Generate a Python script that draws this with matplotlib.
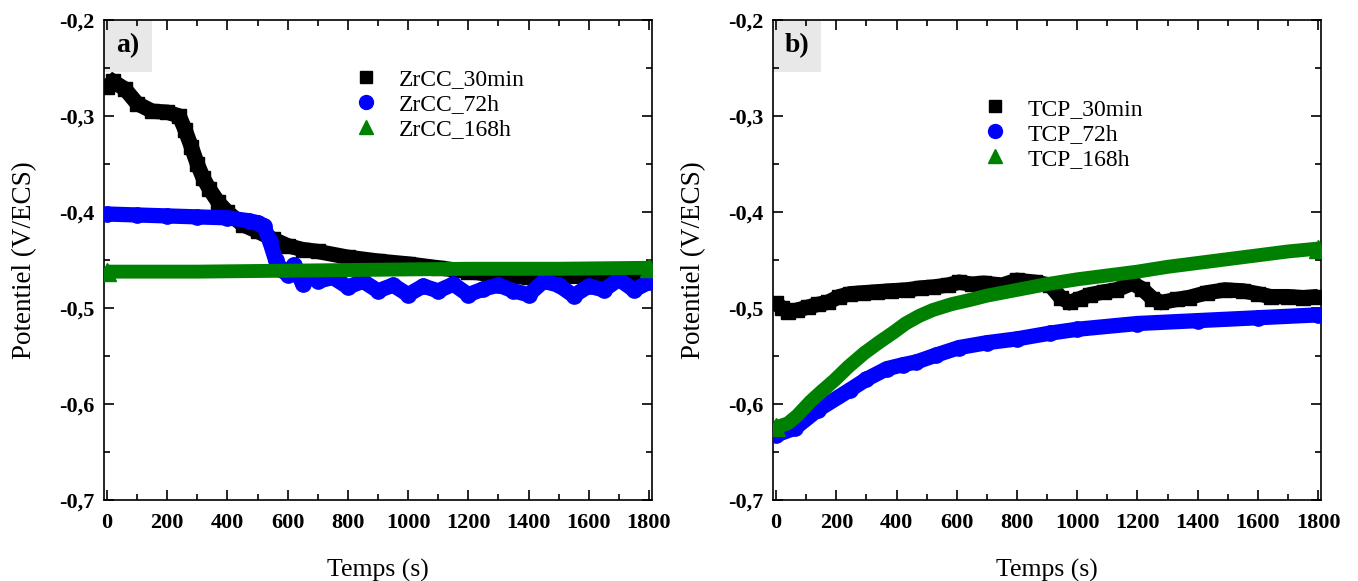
import matplotlib
matplotlib.use("Agg")
import matplotlib.pyplot as plt
from matplotlib.lines import Line2D
from matplotlib.ticker import MultipleLocator
from matplotlib.patches import Rectangle

plt.rcParams['font.family'] = ['Liberation Serif', 'DejaVu Serif']

# panel a) ZrCC
t_zr_30 = [0, 20, 60, 100, 150, 200, 240, 260, 280, 300, 320, 340, 370, 400, 450, 500, 550, 600,
           650, 700, 800, 900, 1000, 1100, 1200, 1300, 1400, 1500, 1600, 1700, 1800]
e_zr_30 = [-0.270, -0.264, -0.272, -0.287, -0.295, -0.296, -0.300, -0.315, -0.332, -0.350, -0.365,
           -0.376, -0.390, -0.400, -0.413, -0.420, -0.428, -0.435, -0.439, -0.441, -0.447, -0.451,
           -0.454, -0.458, -0.462, -0.466, -0.468, -0.467, -0.467, -0.466, -0.466]
t_zr_72 = [0, 100, 200, 300, 400, 470, 500, 520, 540, 560, 580, 600, 620, 650, 680, 700, 750, 800,
           850, 900, 950, 1000, 1050, 1100, 1150, 1200, 1250, 1300, 1350, 1400, 1450, 1500, 1550,
           1600, 1650, 1700, 1750, 1800]
e_zr_72 = [-0.402, -0.403, -0.404, -0.405, -0.406, -0.409, -0.411, -0.414, -0.430, -0.450, -0.460,
           -0.465, -0.455, -0.475, -0.465, -0.472, -0.468, -0.478, -0.472, -0.482, -0.476, -0.486,
           -0.477, -0.482, -0.475, -0.486, -0.480, -0.476, -0.482, -0.486, -0.472, -0.476, -0.487,
           -0.477, -0.481, -0.470, -0.481, -0.473]
t_zr_168 = [0, 300, 600, 900, 1200, 1500, 1800]
e_zr_168 = [-0.462, -0.462, -0.461, -0.460, -0.459, -0.459, -0.458]

# panel b) TCP
t_tcp_30 = [0, 20, 40, 70, 105, 140, 171, 210, 246, 290, 335, 380, 434, 480, 522, 570, 608, 650,
            690, 750, 800, 860, 910, 945, 975, 1010, 1042, 1090, 1130, 1183, 1216, 1250, 1280,
            1330, 1370, 1430, 1491, 1550, 1600, 1643, 1700, 1750, 1800]
e_tcp_30 = [-0.495, -0.500, -0.504, -0.502, -0.499, -0.496, -0.494, -0.488, -0.485, -0.484, -0.483,
            -0.482, -0.481, -0.479, -0.478, -0.476, -0.473, -0.475, -0.474, -0.476, -0.471, -0.473,
            -0.476, -0.489, -0.494, -0.490, -0.486, -0.483, -0.481, -0.474, -0.480, -0.490, -0.494,
            -0.491, -0.489, -0.484, -0.481, -0.482, -0.485, -0.488, -0.488, -0.489, -0.488]
t_tcp_72 = [0, 62, 138, 246, 300, 368, 420, 466, 530, 608, 700, 800, 910, 1000, 1200, 1400, 1600,
            1800]
e_tcp_72 = [-0.632, -0.625, -0.606, -0.585, -0.574, -0.563, -0.559, -0.556, -0.549, -0.541,
            -0.536, -0.532, -0.526, -0.522, -0.516, -0.513, -0.510, -0.507]
t_tcp_168 = [0, 39, 70, 115, 150, 194, 240, 292, 340, 391, 430, 476, 520, 581, 650, 700, 800, 900,
             1000, 1100, 1200, 1300, 1400, 1500, 1600, 1700, 1800]
e_tcp_168 = [-0.624, -0.620, -0.612, -0.597, -0.587, -0.575, -0.561, -0.547, -0.536, -0.525,
             -0.516, -0.508, -0.502, -0.496, -0.491, -0.487, -0.481, -0.475, -0.470, -0.466,
             -0.462, -0.457, -0.453, -0.449, -0.445, -0.441, -0.438]

labels_a = ["ZrCC_30min", "ZrCC_72h", "ZrCC_168h"]
labels_b = ["TCP_30min", "TCP_72h", "TCP_168h"]
panels = ["a)", "b)"]
yticks = [-0.7, -0.6, -0.5, -0.4, -0.3, -0.2]
xticks = [0, 200, 400, 600, 800, 1000, 1200, 1400, 1600, 1800]

fig, axes = plt.subplots(1, 2, figsize=(13.58, 5.81), dpi=100)
fig.subplots_adjust(left=0.0766, right=0.9728, top=0.9656, bottom=0.139, wspace=0.221)

data = [
    [(t_zr_30, e_zr_30), (t_zr_72, e_zr_72), (t_zr_168, e_zr_168)],
    [(t_tcp_30, e_tcp_30), (t_tcp_72, e_tcp_72), (t_tcp_168, e_tcp_168)],
]
colors = ["black", "#0000ff", "#008000"]
legend_pos = [(0.431, 0.924), (0.357, 0.862)]

for i, ax in enumerate(axes):
    (t1, e1), (t2, e2), (t3, e3) = data[i]
    # black squares
    ax.plot(t1, e1, color=colors[0], lw=11, solid_capstyle='butt', solid_joinstyle='miter',
            marker='s', ms=10.5, mec=colors[0], zorder=3)
    # blue circles
    ax.plot(t2, e2, color=colors[1], lw=11, solid_capstyle='round', marker='o', ms=11,
            mec=colors[1], zorder=4)
    # green triangles
    ax.plot(t3, e3, color=colors[2], lw=10, solid_capstyle='butt', marker='^', ms=13,
            mec=colors[2], markevery=[0, len(t3) - 1], zorder=5)

    ax.set_xlim(-10, 1810)
    ax.set_ylim(-0.7, -0.2)
    ax.set_xticks(xticks)
    ax.set_yticks(yticks)
    ax.set_yticklabels([("%.1f" % v).replace(".", ",") for v in yticks])
    ax.xaxis.set_minor_locator(MultipleLocator(100))
    ax.yaxis.set_minor_locator(MultipleLocator(0.05))
    ax.tick_params(which='both', direction='in', top=True, right=True, width=1.2)
    ax.tick_params(which='major', length=7, labelsize=16)
    ax.tick_params(axis='x', which='major', pad=9)
    ax.tick_params(axis='y', which='major', pad=7)
    ax.tick_params(which='minor', length=4)
    for lab in ax.get_xticklabels() + ax.get_yticklabels():
        lab.set_fontweight('bold')
    for sp in ax.spines.values():
        sp.set_linewidth(1.2)
    ax.set_xlabel("Temps (s)", fontsize=18.5, labelpad=19)
    ax.set_ylabel("Potentiel (V/ECS)", fontsize=19.5, labelpad=16)

    ax.add_patch(Rectangle((0, 0.892), 0.088, 0.108, transform=ax.transAxes,
                           facecolor='#e8e8e8', edgecolor='none', zorder=1))
    ax.text(0.044, 0.946, panels[i], transform=ax.transAxes, ha='center', va='center',
            fontsize=20, fontweight='bold', zorder=6)

    handles = [Line2D([], [], ls='none', marker='s', ms=9, color=colors[0]),
               Line2D([], [], ls='none', marker='o', ms=10, color=colors[1]),
               Line2D([], [], ls='none', marker='^', ms=10, color=colors[2])]
    labs = labels_a if i == 0 else labels_b
    ax.legend(handles, labs, loc='upper left', bbox_to_anchor=legend_pos[i], frameon=False,
              fontsize=17, handletextpad=0.8, labelspacing=0.15, borderpad=0, handlelength=1.2)

fig.savefig("out.png", dpi=100)
